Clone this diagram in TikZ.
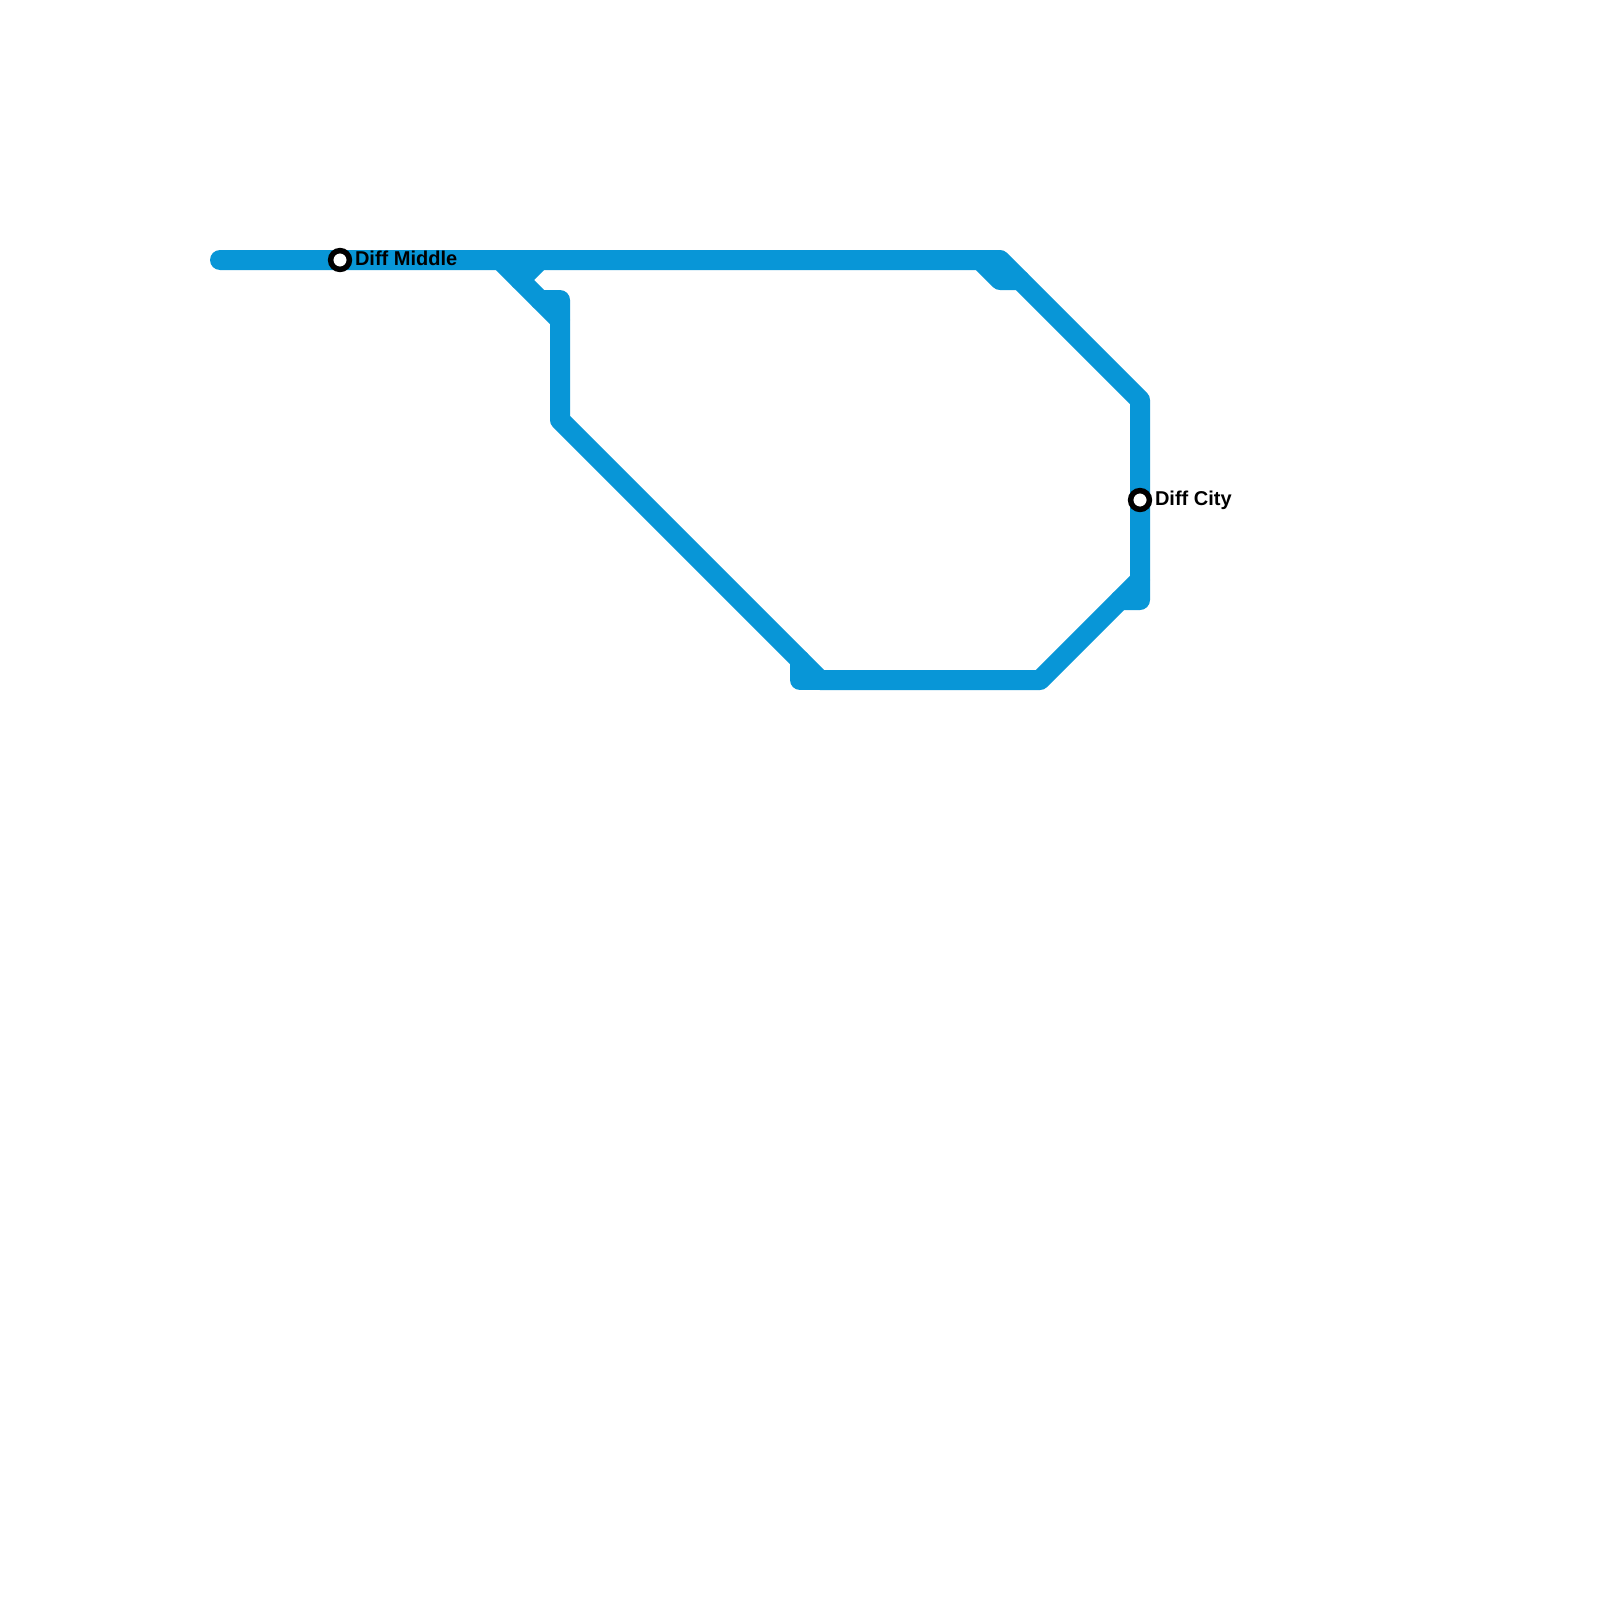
\documentclass[tikz,border=0pt]{standalone}
\usepackage{fontspec}
\setmainfont{Liberation Sans}
\definecolor{metro}{HTML}{0896D7}
\tikzset{
  x=0.5pt,y=-0.5pt,
  route/.style={draw=metro,line width=10pt,line cap=round,line join=round},
  stationdot/.style={circle,draw=black,fill=white,line width=2.75pt,minimum size=9.4pt,inner sep=0pt,outer sep=0pt},
  stationlabel/.style={anchor=base west,inner sep=0pt,outer sep=0pt,font=\bfseries\fontsize{10pt}{12pt}\selectfont,text=black}
}
\begin{document}
\begin{tikzpicture}
\useasboundingbox[fill=white] (0,0) rectangle (1600,1600);
\coordinate (a) at (220,260);
\coordinate (b) at (1000,260);
\coordinate (c) at (1140,400);
\coordinate (d) at (1140,600);
\coordinate (e) at (1120,600);
\coordinate (f) at (1140,580);
\coordinate (g) at (1040,680);
\coordinate (h) at (820,680);
\coordinate (i) at (800,680);
\coordinate (j) at (800,660);
\coordinate (k) at (560,420);
\coordinate (l) at (560,300);
\coordinate (m) at (540,300);
\coordinate (n) at (500,260);
\coordinate (o) at (560,320);
\coordinate (p) at (540,260);
\coordinate (q) at (520,280);
\coordinate (r) at (980,260);
\coordinate (s) at (1000,280);
\coordinate (t) at (1020,280);
\draw[route] (a) -- (b) -- (c) -- (d) -- (e);
\draw[route] (f) -- (g) -- (h) -- (k) -- (l) -- (m);
\draw[route] (j) -- (i) -- (h);
\draw[route] (n) -- (o);
\draw[route] (p) -- (q);
\draw[route] (r) -- (s) -- (t);
\node[stationdot] (middle) at (340,260) {};
\node[stationdot] (city) at (1140,500) {};
\node[stationlabel] (middlelabel) at (355,265.5) {Diff Middle};
\node[stationlabel] (citylabel) at (1155,505.5) {Diff City};
\end{tikzpicture}
\end{document}
